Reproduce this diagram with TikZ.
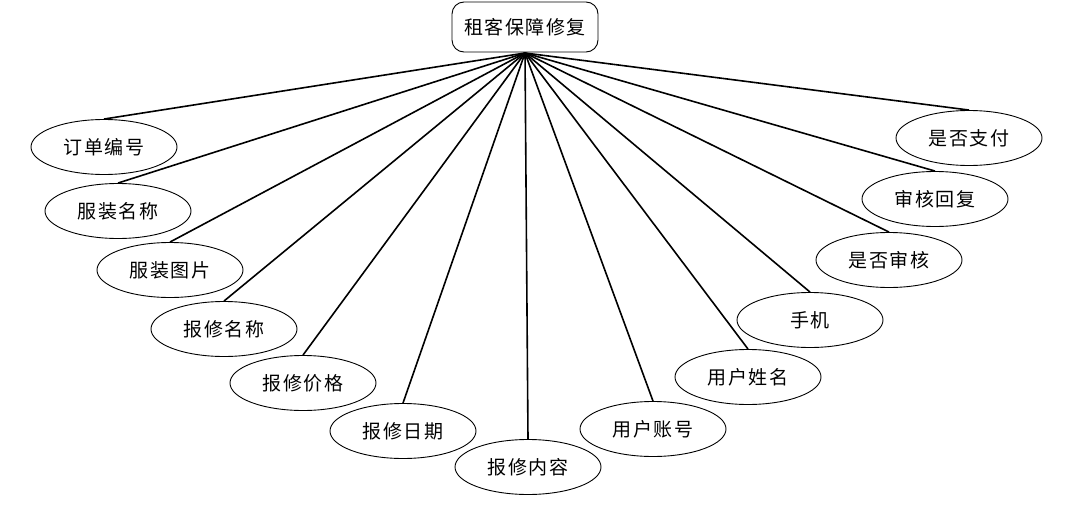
\documentclass[tikz,border=0pt]{standalone}
\usepackage{fontspec}
\newfontfamily\cjk[LetterSpace=8]{Noto Sans CJK SC}
\usetikzlibrary{shapes.geometric}
\begin{document}
\begin{tikzpicture}[x=1pt,y=-1pt,
  attr/.style={draw,ellipse,line width=0.9pt,minimum width=146pt,minimum height=55pt,inner sep=0pt,font=\cjk\fontsize{19}{19}\selectfont},
  ent/.style={draw,rounded corners=12pt,line width=0.9pt,minimum width=146pt,minimum height=50pt,inner sep=0pt,font=\cjk\fontsize{19}{19}\selectfont},
  conn/.style={line width=1.6pt}]
\useasboundingbox (0,0) rectangle (1066,506);
\node[ent] (e) at (525,27) {租客保障修复};
\coordinate (hub) at (525,53);
\node[attr] (a1) at (104,147) {订单编号};
\node[attr] (a2) at (118,211) {服装名称};
\node[attr] (a3) at (170,270) {服装图片};
\node[attr] (a4) at (224,329) {报修名称};
\node[attr] (a5) at (303,383) {报修价格};
\node[attr] (a6) at (403,431) {报修日期};
\node[attr] (a7) at (528,467) {报修内容};
\node[attr] (a8) at (653,429) {用户账号};
\node[attr] (a9) at (748,377) {用户姓名};
\node[attr] (a10) at (810,320) {手机};
\node[attr] (a11) at (889,260) {是否审核};
\node[attr] (a12) at (935,199) {审核回复};
\node[attr] (a13) at (969,138) {是否支付};
\foreach \i in {1,...,13} \draw[conn] (hub) -- (a\i.north);
\end{tikzpicture}
\end{document}
